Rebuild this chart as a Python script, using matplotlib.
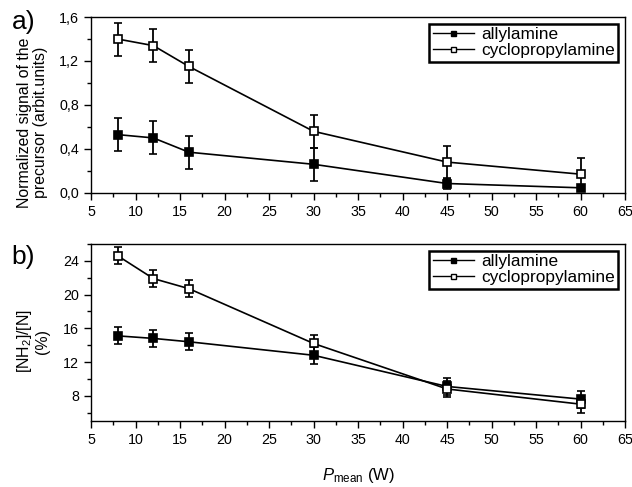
import numpy as np
import matplotlib
matplotlib.use("Agg")
import matplotlib.pyplot as plt
from matplotlib.lines import Line2D
from matplotlib.ticker import MultipleLocator, FuncFormatter

plt.rcParams['font.family'] = ['Liberation Sans', 'DejaVu Sans']
plt.rcParams['mathtext.fontset'] = 'custom'
plt.rcParams['mathtext.rm'] = 'Liberation Sans'
plt.rcParams['mathtext.it'] = 'Liberation Sans:italic'

# puissance moyenne (W)
power = [8, 12, 16, 30, 45, 60]

# a) signal normalise du precurseur
sig_allyl = [0.53, 0.50, 0.37, 0.26, 0.085, 0.046]
sig_allyl_err = [0.15, 0.15, 0.15, 0.15, 0.05, 0.03]
sig_cyclo = [1.40, 1.34, 1.15, 0.56, 0.28, 0.17]
sig_cyclo_err = [0.15, 0.15, 0.15, 0.15, 0.15, 0.15]

# b) [NH2]/[N] (%)
nh2_allyl = [15.1, 14.8, 14.4, 12.8, 9.1, 7.6]
nh2_allyl_err = [1.0, 1.0, 1.0, 1.0, 1.0, 1.0]
nh2_cyclo = [24.6, 21.9, 20.7, 14.2, 8.8, 7.0]
nh2_cyclo_err = [1.0, 1.0, 1.0, 1.0, 1.0, 1.0]

fig = plt.figure(figsize=(6.32, 4.87), dpi=100)
ax1 = fig.add_axes([0.144, 0.604, 0.845, 0.361])
ax2 = fig.add_axes([0.144, 0.1355, 0.845, 0.3635])


def trace(ax, ya, ea, yc, ec):
    kw = dict(color='k', lw=1.2, marker='s', ms=5.8, mec='k', mew=1.2,
              capsize=2.7, elinewidth=1.3, capthick=1.3)
    ax.errorbar(power, ya, yerr=ea, mfc='k', **kw)
    ax.errorbar(power, yc, yerr=ec, mfc='w', **kw)
    ax.set_xlim(5, 65)
    ax.xaxis.set_major_locator(MultipleLocator(5))
    ax.xaxis.set_minor_locator(MultipleLocator(2.5))
    ax.tick_params(which='both', direction='out', top=False, right=False,
                   labelsize=10.3, width=1)
    ax.tick_params(which='major', length=5)
    ax.tick_params(which='minor', length=3)
    for s in ax.spines.values():
        s.set_linewidth(1)
    # legende : ligne + petit carre au milieu, sans barres d'erreur
    h1 = Line2D([], [], color='k', lw=1.0, marker='s', ms=3.6, mfc='k', mec='k', mew=1)
    h2 = Line2D([], [], color='k', lw=1.0, marker='s', ms=3.6, mfc='w', mec='k', mew=1)
    leg = ax.legend([h1, h2], ['allylamine', 'cyclopropylamine'],
                    loc='upper right', fontsize=12.4, fancybox=False, numpoints=1,
                    framealpha=1, edgecolor='k', handlelength=2.4,
                    borderpad=0.2, labelspacing=0.05,
                    handletextpad=0.4, borderaxespad=0.4)
    leg.get_frame().set_linewidth(1.8)


trace(ax1, sig_allyl, sig_allyl_err, sig_cyclo, sig_cyclo_err)
ax1.set_ylim(0, 1.6)
ax1.yaxis.set_major_locator(MultipleLocator(0.4))
ax1.yaxis.set_minor_locator(MultipleLocator(0.2))
ax1.yaxis.set_major_formatter(FuncFormatter(lambda v, p: f"{v:.1f}".replace('.', ',')))
ax1.set_ylabel("Normalized signal of the\nprecursor (arbit.units)", fontsize=11.4,
               linespacing=1.05, ha='center', va='center')
ax1.yaxis.set_label_coords(-0.11, 0.40)

trace(ax2, nh2_allyl, nh2_allyl_err, nh2_cyclo, nh2_cyclo_err)
ax2.set_ylim(5, 26)
ax2.yaxis.set_major_locator(MultipleLocator(4))
ax2.yaxis.set_minor_locator(MultipleLocator(2))
ax2.set_ylabel("[NH$_2$]/[N]\n(%)", fontsize=11.4, linespacing=1.05,
               ha='center', va='center')
ax2.yaxis.set_label_coords(-0.11, 0.45)
ax2.set_xlabel("$P_{\\mathrm{mean}}$ (W)", fontsize=12, labelpad=14)

fig.text(0.018, 0.955, "a)", fontsize=19, va='center')
fig.text(0.018, 0.472, "b)", fontsize=19, va='center')

fig.savefig("out.png", dpi=100)
